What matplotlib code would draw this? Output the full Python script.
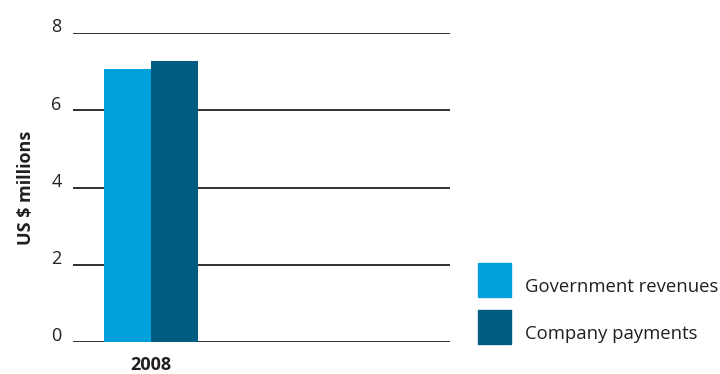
import numpy as np
import matplotlib.pyplot as plt
from matplotlib.patches import Rectangle
from matplotlib.transforms import ScaledTranslation

plt.rcParams['font.family'] = ['Open Sans', 'DejaVu Sans']

years = ['2008']
series = ['Government revenues', 'Company payments']
values = [[7.08], [7.27]]
colors = ['#00A0DA', '#005C80']
yticks = [0, 2, 4, 6, 8]

fig = plt.figure(figsize=(7.2, 3.74), dpi=100)
ax = fig.add_axes([0.101, 0.0856, 0.524, 0.826])

w = 0.4
x = np.arange(len(years))
for i, (name, vals) in enumerate(zip(series, values)):
    ax.bar(x + (i - 0.5) * w, vals, width=w, color=colors[i], label=name, zorder=3)

ax.set_ylim(0, 8)
ax.set_xlim(-0.664, 2.545)
for t in yticks:
    ax.axhline(t, color='#231f20', lw=1.3, zorder=2)

ax.set_yticks(yticks)
ax.set_yticklabels([str(t) for t in yticks], fontsize=13, color='#231f20')
ax.tick_params(axis='y', length=0, pad=8)
off = ScaledTranslation(0, 5.5 / 72, fig.dpi_scale_trans)
for lab in ax.get_yticklabels():
    lab.set_transform(lab.get_transform() + off)

ax.set_xticks(x)
ax.set_xticklabels(years, fontsize=13, fontweight='bold', color='#231f20')
ax.tick_params(axis='x', length=0, pad=10)

ax.set_ylabel('US $ millions', fontsize=13, fontweight='bold', color='#231f20', labelpad=12)
for s in ax.spines.values():
    s.set_visible(False)

# legend
for i, name in enumerate(series):
    y0 = 1 - (297 + i * 47) / 374
    fig.add_artist(Rectangle((478 / 720, y0), 33 / 720, 34 / 374,
                             transform=fig.transFigure, color=colors[i]))
    fig.text(525 / 720, y0 + 1 / 374, name, fontsize=13.3, color='#231f20',
             va='bottom', ha='left')

fig.savefig('out.png', dpi=100)
